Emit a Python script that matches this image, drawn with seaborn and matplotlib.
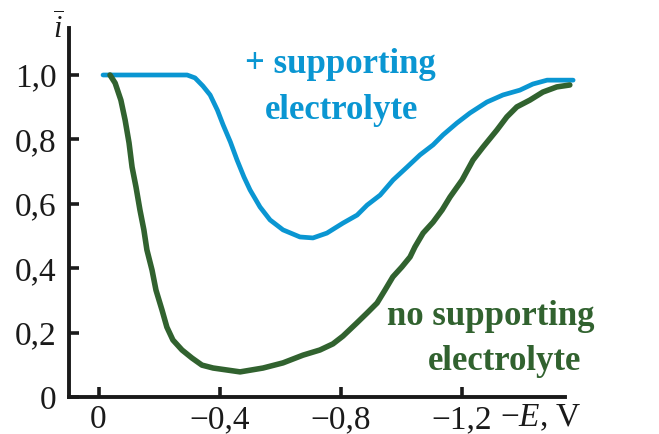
import matplotlib
matplotlib.use("Agg")
import matplotlib.pyplot as plt
import seaborn as sns
import numpy as np
from matplotlib.ticker import FixedLocator, FuncFormatter

# ---- data ----
E_support = [-0.015, -0.10, -0.20, -0.293, -0.319, -0.345, -0.369, -0.393, -0.412, -0.436,
             -0.458, -0.481, -0.501, -0.534, -0.567, -0.610, -0.666, -0.709, -0.755, -0.808,
             -0.855, -0.888, -0.931, -0.974, -1.020, -1.063, -1.106, -1.139, -1.185, -1.228,
             -1.284, -1.337, -1.393, -1.436, -1.483, -1.569]
i_support = [1.0, 1.0, 1.0, 1.0, 0.991, 0.966, 0.938, 0.891, 0.845, 0.792,
             0.736, 0.683, 0.643, 0.590, 0.550, 0.519, 0.497, 0.494, 0.509, 0.540,
             0.565, 0.596, 0.627, 0.674, 0.714, 0.752, 0.783, 0.814, 0.851, 0.882,
             0.916, 0.938, 0.953, 0.972, 0.984, 0.984]

E_nosupport = [-0.038, -0.055, -0.074, -0.088, -0.101, -0.111, -0.124, -0.137, -0.150, -0.160,
               -0.177, -0.190, -0.210, -0.226, -0.246, -0.276, -0.309, -0.342, -0.379, -0.468,
               -0.544, -0.610, -0.676, -0.732, -0.775, -0.808, -0.854, -0.888, -0.921, -0.947,
               -0.973, -1.003, -1.030, -1.046, -1.073, -1.106, -1.136, -1.162, -1.202, -1.238,
               -1.271, -1.317, -1.350, -1.383, -1.426, -1.469, -1.515, -1.558]
i_nosupport = [1.0, 0.975, 0.922, 0.860, 0.789, 0.714, 0.652, 0.581, 0.519, 0.457,
               0.394, 0.332, 0.270, 0.217, 0.177, 0.146, 0.121, 0.099, 0.090, 0.078,
               0.090, 0.106, 0.130, 0.146, 0.165, 0.189, 0.230, 0.261, 0.292, 0.332,
               0.373, 0.404, 0.435, 0.466, 0.509, 0.543, 0.581, 0.621, 0.674, 0.736,
               0.776, 0.829, 0.870, 0.901, 0.922, 0.947, 0.963, 0.969]

x_ticks = [0.0, -0.4, -0.8, -1.2]
y_ticks = [0.0, 0.2, 0.4, 0.6, 0.8, 1.0]

BLUE = "#0a96d2"
GREEN = "#31622f"
INK = "#1a1a1a"

sns.set_theme(style="ticks")
plt.rcParams['font.family'] = ['Liberation Serif', 'DejaVu Serif']
plt.rcParams['mathtext.fontset'] = 'custom'
plt.rcParams['mathtext.rm'] = 'Liberation Serif'
plt.rcParams['mathtext.it'] = 'Liberation Serif:italic'

W, H = 659, 434
fig = plt.figure(figsize=(W / 100, H / 100), dpi=100)
fig.patch.set_facecolor("white")

x0_px, zero_px, px_per_V = 69, 98.5, 302.5
y0_px, px_per_unit, top_px = 397, 322, 28
right_px = 582.5
ax_w_px, ax_h_px = right_px - x0_px, y0_px - top_px
ax = fig.add_axes([x0_px / W, 1 - y0_px / H, ax_w_px / W, ax_h_px / H])
ax.set_facecolor("white")

sns.lineplot(x=E_support, y=i_support, ax=ax, color=BLUE, lw=3.4, sort=False,
             estimator=None, clip_on=False, solid_joinstyle="round")
sns.lineplot(x=E_nosupport, y=i_nosupport, ax=ax, color=GREEN, lw=4.0, sort=False,
             estimator=None, clip_on=False, solid_joinstyle="round")

ax.set_xlim((zero_px - x0_px) / px_per_V, -(right_px - zero_px) / px_per_V)
ax.set_ylim(0, ax_h_px / px_per_unit)

for s in ["top", "right"]:
    ax.spines[s].set_visible(False)
for s in ["left", "bottom"]:
    ax.spines[s].set_linewidth(2.8)
    ax.spines[s].set_color(INK)
    ax.spines[s].set_capstyle("projecting")
ax.spines["bottom"].set_bounds((zero_px - x0_px) / px_per_V, -(565 - zero_px) / px_per_V)

def fmt(v, pos=None):
    if abs(v) < 1e-9:
        return "0"
    s = f"{abs(v):.1f}".replace(".", ",")
    return ("\u2212" + s) if v < 0 else s

ax.xaxis.set_major_locator(FixedLocator(x_ticks))
ax.yaxis.set_major_locator(FixedLocator(y_ticks))
ax.xaxis.set_major_formatter(FuncFormatter(fmt))
ax.yaxis.set_major_formatter(FuncFormatter(fmt))
ax.tick_params(axis="both", which="major", direction="in", length=0, width=0,
               labelsize=24, labelcolor=INK)
ax.tick_params(axis="x", pad=5.5)
ax.tick_params(axis="y", pad=9.0)

# inward tick marks drawn explicitly (ticks of the axes, 10 px long)
tick_px = 10
ax.vlines(x_ticks, 0, tick_px / ax_h_px, transform=ax.get_xaxis_transform(),
          colors=INK, lw=2.6, clip_on=False, zorder=5)
ax.hlines(y_ticks, 0, tick_px / ax_w_px, transform=ax.get_yaxis_transform(),
          colors=INK, lw=2.6, clip_on=False, zorder=5)

def ftext(px, py, s, **kw):
    fig.text(px / W, 1 - py / H, s, **kw)

# axis labels
ftext(58, 12, r"$\overline{i}$", ha="center", va="top", fontsize=22, color=INK)
ftext(541, 403, "\u2212$E$, V", ha="center", va="top", fontsize=24, color=INK)

# curve annotations
ftext(340, 73, "+ supporting", ha="center", va="baseline", fontsize=25,
      fontweight="bold", color=BLUE)
ftext(342, 119, "electrolyte", ha="center", va="baseline", fontsize=25,
      fontweight="bold", color=BLUE)
ftext(491, 325, "no supporting", ha="center", va="baseline", fontsize=25,
      fontweight="bold", color=GREEN)
ftext(505, 370, "electrolyte", ha="center", va="baseline", fontsize=25,
      fontweight="bold", color=GREEN)

fig.savefig("out.png", dpi=100, facecolor="white")
